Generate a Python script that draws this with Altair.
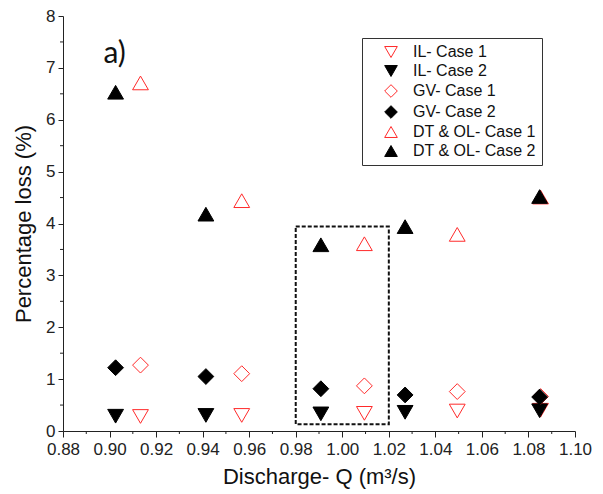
import altair as alt
import pandas as pd

# ---- data ----
series = ["IL- Case 1", "IL- Case 2", "GV- Case 1", "GV- Case 2",
          "DT & OL- Case 1", "DT & OL- Case 2"]

q_case1 = [0.9133, 0.9568, 1.0095, 1.0494, 1.0852]
q_case2 = [0.9026, 0.9414, 0.9908, 1.0270, 1.0848]

il_case1 = [0.28, 0.30, 0.34, 0.385, 0.40]
il_case2 = [0.285, 0.30, 0.33, 0.36, 0.39]
gv_case1 = [1.27, 1.105, 0.87, 0.76, 0.665]
gv_case2 = [1.22, 1.05, 0.815, 0.695, 0.655]
dt_case1 = [6.71, 4.44, 3.61, 3.79, 4.51]
dt_case2 = [6.53, 4.18, 3.59, 3.94, 4.52]

box_q = [0.98, 1.02]
box_loss = [0.13, 3.94]

x_ticks = [0.88, 0.90, 0.92, 0.94, 0.96, 0.98, 1.00, 1.02, 1.04, 1.06, 1.08, 1.10]
x_minor = [0.89, 0.91, 0.93, 0.95, 0.97, 0.99, 1.01, 1.03, 1.05, 1.07, 1.09]
y_ticks = [0, 1, 2, 3, 4, 5, 6, 7, 8]
y_minor = [0.5, 1.5, 2.5, 3.5, 4.5, 5.5, 6.5, 7.5]

panel_label = "a)"
panel_q = 0.9022
panel_loss = 7.1

# ---- build table ----
rows = []
for name, qs, vals in [
    (series[0], q_case1, il_case1), (series[1], q_case2, il_case2),
    (series[2], q_case1, gv_case1), (series[3], q_case2, gv_case2),
    (series[4], q_case1, dt_case1), (series[5], q_case2, dt_case2),
]:
    for q, v in zip(qs, vals):
        rows.append({"series": name, "q": q, "loss": v})
df = pd.DataFrame(rows)

RED = "#ff2a2a"
AX = "#222222"
FONT = "Liberation Sans"
W, H = 512, 415

x_scale = alt.Scale(domain=[0.88, 1.10], nice=False, zero=False)
y_scale = alt.Scale(domain=[0, 8], nice=False, zero=False)

x_title = "Discharge- Q (m³/s)"
y_title = "Percentage loss (%)"

x_axis = alt.Axis(values=x_ticks, format=".2f", title=x_title, grid=False,
                  tickSize=6, labelPadding=4, labelFlush=False, labelOverlap=False,
                  titlePadding=9)
y_axis = alt.Axis(values=y_ticks, format="d", title=y_title, grid=False,
                  tickSize=5, labelPadding=3, labelOverlap=False, titlePadding=10)

shape_range = ["triangle-down", "triangle-down", "diamond", "diamond",
               "triangle-up", "triangle-up"]
fill_range = ["transparent", "black", "transparent", "black", "transparent", "black"]
stroke_range = [RED, "black", RED, "black", RED, "black"]

points = alt.Chart(df).mark_point(filled=True, size=250, strokeWidth=1, opacity=1).encode(
    x=alt.X("q:Q", scale=x_scale, axis=x_axis),
    y=alt.Y("loss:Q", scale=y_scale, axis=y_axis),
    shape=alt.Shape("series:N", scale=alt.Scale(domain=series, range=shape_range), title=None),
    fill=alt.Fill("series:N", scale=alt.Scale(domain=series, range=fill_range), title=None),
    stroke=alt.Stroke("series:N", scale=alt.Scale(domain=series, range=stroke_range), title=None),
)

box_df = pd.DataFrame({"q": [box_q[0]], "q2": [box_q[1]],
                       "loss": [box_loss[0]], "loss2": [box_loss[1]]})
box = alt.Chart(box_df).mark_rect(fill="transparent", stroke="#111111", strokeWidth=2,
                                  strokeDash=[4, 2]).encode(
    x=alt.X("q:Q", title=x_title), x2="q2:Q",
    y=alt.Y("loss:Q", title=y_title), y2="loss2:Q",
)

ymin = alt.Chart(pd.DataFrame({"loss": y_minor})).mark_rule(color=AX, strokeWidth=1).encode(
    y=alt.Y("loss:Q", title=y_title), x=alt.value(0), x2=alt.value(-3))
xmin = alt.Chart(pd.DataFrame({"q": x_minor})).mark_rule(color=AX, strokeWidth=1).encode(
    x=alt.X("q:Q", title=x_title), y=alt.value(H), y2=alt.value(H + 3))

label_df = pd.DataFrame({"q": [panel_q], "loss": [panel_loss], "t": [panel_label]})
label = alt.Chart(label_df).mark_text(font="Lato", fontSize=30, align="center",
                                      baseline="alphabetic", color="#111111").encode(
    x=alt.X("q:Q", title=x_title), y=alt.Y("loss:Q", title=y_title), text="t:N")

chart = alt.layer(box, ymin, xmin, points, label).properties(
    width=W, height=H,
    padding={"left": 63, "top": 16, "right": 28, "bottom": 63},
    autosize=alt.AutoSizeParams(type="none"),
    background="white",
).configure_view(stroke=None).configure_axis(
    domainColor=AX, tickColor=AX, domainWidth=1, tickWidth=1,
    labelFont=FONT, labelFontSize=17, labelColor=AX,
    titleFont=FONT, titleFontSize=22, titleColor="#111111", titleFontWeight="normal",
).configure_legend(
    orient="none", legendX=299, legendY=22,
    strokeColor="#333333", strokeWidth=1, fillColor="white",
    padding=6, rowPadding=3, symbolSize=160, symbolStrokeWidth=1,
    symbolOffset=15, labelOffset=14, labelFont=FONT, labelFontSize=16,
    labelColor="#111111", labelLimit=300,
)

chart.save("out.html", embed_options={"renderer": "svg", "actions": False})
